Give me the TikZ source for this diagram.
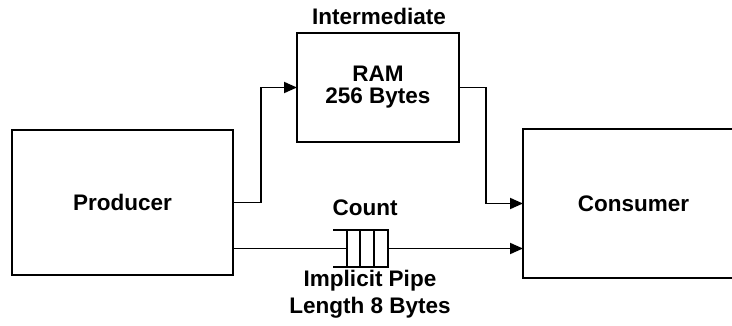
\documentclass[tikz,border=0pt]{standalone}
\usepackage{fontspec}
\setmainfont{Liberation Sans}
\usetikzlibrary{arrows.meta}

\begin{document}
\begin{tikzpicture}[x=1pt,y=-1pt,line width=1.8pt,
  font=\bfseries\fontsize{22.5}{22}\selectfont,
  box/.style={draw,outer sep=0pt,inner sep=0pt,align=center},
  arr/.style={-{Triangle[length=13pt,width=11pt]}}]
\clip (0,0) rectangle (732,326);
\node[box,minimum width=221pt,minimum height=145pt] (prod) at (122.5,202.5) {Producer};
\node[box,minimum width=162pt,minimum height=109pt] (ram) at (378,87.5) {RAM\\[0pt]256 Bytes};
\node[box,minimum width=221pt,minimum height=149pt] (cons) at (633.5,203.5) {Consumer};
\node (inter) at (379,16) {Intermediate};
% pipe
\node[box,minimum width=41pt,minimum height=37pt] (pipe) at (367.5,248.5) {};
\draw (pipe.north west) -- ++(-14,0);
\draw (pipe.south west) -- ++(-14,0);
\draw (360,230) -- (360,267);
\draw (374,230) -- (374,267);
\node (count) at (365,208) {Count};
\node[align=center] (pname) at (370,294) {Implicit Pipe\\[5pt]Length 8 Bytes};
% connections
\draw[arr] (prod.east) -- ++(28,0) |- (ram.west);
\draw[arr] (ram.east) -- ++(27,0) |- (cons.west);
\draw (prod.east |- pipe.west) -- (pipe.west);
\draw[arr] (pipe.east) -- (cons.west |- pipe.east);
\end{tikzpicture}
\end{document}
